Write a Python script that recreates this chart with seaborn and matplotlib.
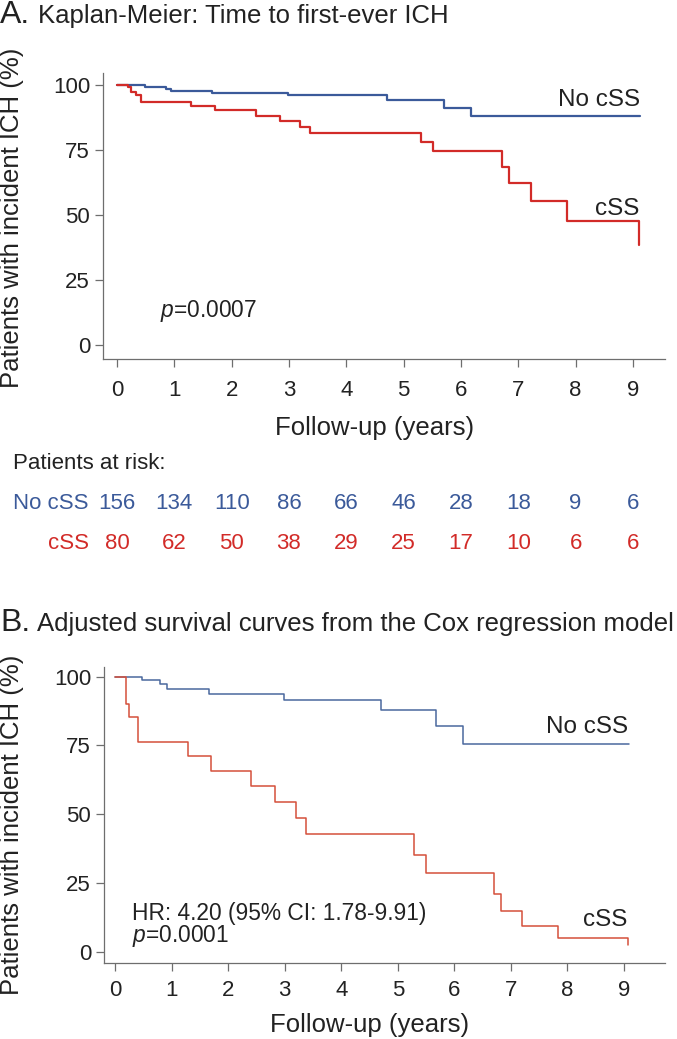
import pandas as pd
import seaborn as sns
import matplotlib.pyplot as plt
from matplotlib.transforms import blended_transform_factory

sns.set_style('ticks')
plt.rcParams['font.family'] = ['Liberation Sans', 'DejaVu Sans']
plt.rcParams['mathtext.fontset'] = 'custom'
plt.rcParams['mathtext.rm'] = 'Liberation Sans'
plt.rcParams['mathtext.it'] = 'Liberation Sans:italic'

# panel A - Kaplan-Meier steps (years, % free of ICH)
km_no_t = [0, 0.49, 0.85, 0.94, 1.65, 2.99, 4.71, 5.71, 6.18, 9.12]
km_no_s = [100, 99.2, 98.3, 97.7, 97.0, 96.2, 94.1, 91.3, 87.9, 87.9]
km_css_t = [0, 0.19, 0.24, 0.34, 0.42, 1.29, 1.71, 2.42, 2.84, 3.19, 3.37,
            5.31, 5.52, 6.72, 6.84, 7.23, 7.85, 9.10, 9.10]
km_css_s = [100, 99.1, 97.4, 96.1, 93.5, 91.9, 90.4, 88.1, 86.0, 83.8, 81.4,
            78.1, 74.6, 68.6, 62.4, 55.4, 47.7, 47.7, 38.3]

# panel B - adjusted Cox curves
cox_no_t = [0, 0.48, 0.80, 0.92, 1.65, 2.98, 4.70, 5.68, 6.15, 9.09]
cox_no_s = [100, 98.8, 97.2, 95.5, 93.8, 91.5, 87.8, 81.9, 75.4, 75.4]
cox_css_t = [0, 0.19, 0.25, 0.41, 1.29, 1.70, 2.41, 2.82, 3.20, 3.37,
             5.29, 5.50, 6.71, 6.82, 7.20, 7.84, 9.08, 9.08]
cox_css_s = [100, 90.0, 85.5, 76.4, 71.3, 65.9, 60.1, 54.3, 48.8, 43.0,
             35.3, 28.6, 21.1, 14.7, 9.3, 5.0, 5.0, 2.7]

risk_years = list(range(10))
risk_no = [156, 134, 110, 86, 66, 46, 28, 18, 9, 6]
risk_css = [80, 62, 50, 38, 29, 25, 17, 10, 6, 6]

BLUE = '#3b5a9a'
RED = '#d22b28'
RED_B = '#d5503b'
BLUE_B = '#4a689e'
TXT = '#222222'
SPINE = '#6e6e6e'

W, H = 677, 1039
fig = plt.figure(figsize=(W / 100, H / 100), dpi=100)


def fy(p):
    return 1 - p / H


def make_df(t1, s1, t2, s2):
    return pd.DataFrame({
        'time': t1 + t2,
        'pct': s1 + s2,
        'group': ['No cSS'] * len(t1) + ['cSS'] * len(t2),
    })


def style_axis(ax, xlim, ylim, xpad):
    ax.set_xlim(*xlim)
    ax.set_ylim(*ylim)
    ax.set_xticks(range(10))
    ax.set_yticks([0, 25, 50, 75, 100])
    sns.despine(ax=ax)
    for sp in ['left', 'bottom']:
        ax.spines[sp].set_color(SPINE)
        ax.spines[sp].set_linewidth(0.9)
    ax.tick_params(axis='both', length=5.8, width=0.9, color=SPINE,
                   labelsize=16, labelcolor=TXT)
    ax.tick_params(axis='x', pad=xpad)
    ax.tick_params(axis='y', pad=3.5)
    ax.set_xlabel('')
    ax.set_ylabel('')


# ---------- panel A ----------
axA = fig.add_axes([103 / W, fy(359), (665 - 103) / W, (359 - 73) / H])
dfA = make_df(km_no_t, km_no_s, km_css_t, km_css_s)
sns.lineplot(data=dfA, x='time', y='pct', hue='group',
             palette={'No cSS': BLUE, 'cSS': RED}, estimator=None, sort=False,
             drawstyle='steps-post', linewidth=1.6, legend=False, ax=axA)
style_axis(axA, (-0.244, 9.56), (-5.4, 104.6), 9)

axA.text(9.13, 91.8, 'No cSS', ha='right', va='baseline', fontsize=17.5, color=TXT)
axA.text(9.11, 50.1, 'cSS', ha='right', va='baseline', fontsize=17.5, color=TXT)
axA.text(0.75, 10.9, '$p$=0.0007', ha='left', va='baseline', fontsize=16.4, color=TXT)

fig.text(0.0, fy(23.3), 'A.', fontsize=23, color=TXT, va='baseline')
fig.text(38 / W, fy(23.3), 'Kaplan-Meier: Time to first-ever ICH', fontsize=18.5,
         color=TXT, va='baseline')
fig.text(0.0, fy(218), 'Patients with incident ICH (%)', rotation=90,
         ha='left', va='center', fontsize=18.5, color=TXT)

trA = blended_transform_factory(axA.transData, fig.transFigure)
axA.text(4.5, fy(435), 'Follow-up (years)', transform=trA, ha='center',
         va='baseline', fontsize=18.5, color=TXT)

# patients at risk table
fig.text(13 / W, fy(469.3), 'Patients at risk:', fontsize=16, color=TXT, va='baseline')
fig.text(88.5 / W, fy(509.3), 'No cSS', fontsize=16, color=BLUE, ha='right', va='baseline')
fig.text(88.5 / W, fy(549.3), 'cSS', fontsize=16, color=RED, ha='right', va='baseline')
for yr, n1, n2 in zip(risk_years, risk_no, risk_css):
    axA.text(yr, fy(509.3), str(n1), transform=trA, ha='center', va='baseline',
             fontsize=16, color=BLUE, clip_on=False)
    axA.text(yr, fy(549.3), str(n2), transform=trA, ha='center', va='baseline',
             fontsize=16, color=RED, clip_on=False)

# ---------- panel B ----------
axB = fig.add_axes([104 / W, fy(962.7), (665 - 104) / W, (962.7 - 666.7) / H])
dfB = make_df(cox_no_t, cox_no_s, cox_css_t, cox_css_s)
sns.lineplot(data=dfB, x='time', y='pct', hue='group',
             palette={'No cSS': BLUE_B, 'cSS': RED_B}, estimator=None, sort=False,
             drawstyle='steps-post', linewidth=1.1, legend=False, ax=axB)
style_axis(axB, (-0.2, 9.73), (-3.9, 103.6), 7)

axB.text(9.07, 79.7, 'No cSS', ha='right', va='baseline', fontsize=17.5, color=TXT)
axB.text(9.07, 9.4, 'cSS', ha='right', va='baseline', fontsize=17.5, color=TXT)
axB.text(0.3, 11.6, 'HR: 4.20 (95% CI: 1.78-9.91)', ha='left', va='baseline',
         fontsize=16.4, color=TXT)
axB.text(0.3, 3.7, '$p$=0.0001', ha='left', va='baseline', fontsize=16.4, color=TXT)

fig.text(0.0, fy(630.7), 'B.', fontsize=23, color=TXT, va='baseline')
fig.text(36.7 / W, fy(630.7), 'Adjusted survival curves from the Cox regression model',
         fontsize=18.5, color=TXT, va='baseline')
fig.text(0.0, fy(825), 'Patients with incident ICH (%)', rotation=90,
         ha='left', va='center', fontsize=18.5, color=TXT)

trB = blended_transform_factory(axB.transData, fig.transFigure)
axB.text(4.5, fy(1031.7), 'Follow-up (years)', transform=trB, ha='center',
         va='baseline', fontsize=18.5, color=TXT)

fig.savefig('out.png', dpi=100)
